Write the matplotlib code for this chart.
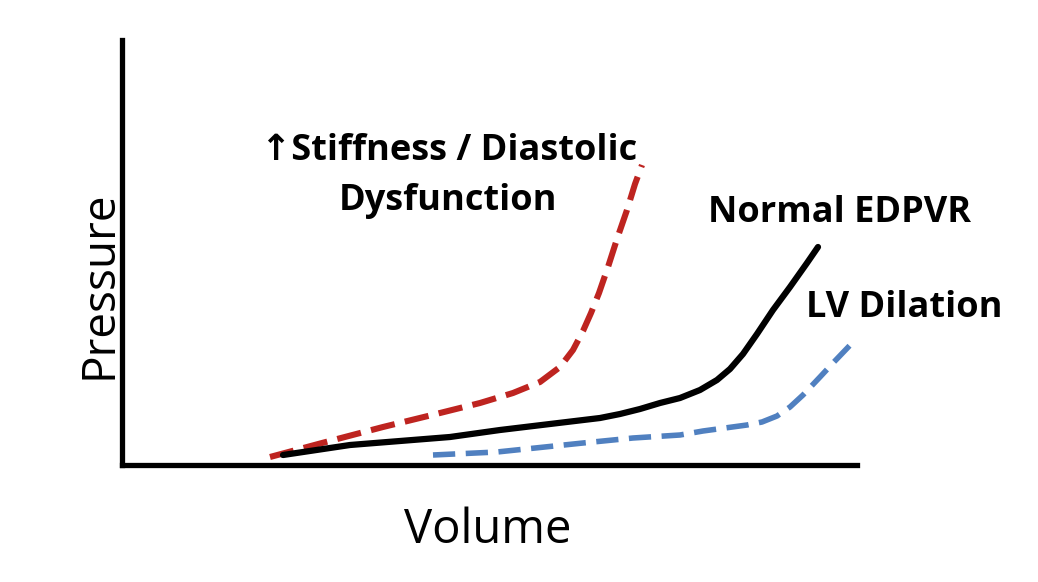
import matplotlib
matplotlib.use("Agg")
import matplotlib.pyplot as plt

# Data (arbitrary units: volume, pressure)
stiff_v = [148, 200, 261, 310, 358, 391, 418, 438, 451, 461, 469, 477, 486, 495, 505, 513, 520]
stiff_p = [8, 22, 38, 50, 62, 72, 83, 98, 115, 134, 152, 172, 198, 226, 255, 281, 300]

normal_v = [161, 228, 328, 378, 428, 478, 498, 518, 538, 558, 578, 595, 608, 621, 635, 651, 668, 685, 696]
normal_p = [10, 20, 28, 35, 41, 47, 51, 56, 62, 67, 75, 85, 96, 111, 131, 155, 178, 202, 218]

dilation_v = [311, 375, 461, 511, 558, 581, 625, 640, 655, 668, 681, 698, 711, 733]
dilation_p = [10, 13, 22, 27, 30, 34, 40, 43, 49, 58, 70, 88, 102, 125]

labels = {
    "stiff1": "\u2191Stiffness / Diastolic",
    "stiff2": "Dysfunction",
    "normal": "Normal EDPVR",
    "dilation": "LV Dilation",
    "x": "Volume",
    "y": "Pressure",
}

W, H = 1038, 582
fig = plt.figure(figsize=(W / 100, H / 100), dpi=100)
ax = fig.add_axes([122 / W, 1 - 465 / H, 735 / W, 425 / H])
ax.set_xlim(0, 735)
ax.set_ylim(0, 425)

ax.plot(stiff_v, stiff_p, color="#BE2420", lw=4.4, dashes=(4.0, 1.7),
        solid_joinstyle="round", dash_capstyle="butt", clip_on=False)
ax.plot(normal_v, normal_p, color="black", lw=4.5, solid_capstyle="round",
        solid_joinstyle="round", clip_on=False)
ax.plot(dilation_v, dilation_p, color="#5080C0", lw=4.0, dashes=(4.0, 1.9),
        solid_joinstyle="round", dash_capstyle="butt", clip_on=False)

ax.spines[["top", "right"]].set_visible(False)
ax.spines["left"].set_linewidth(3.8)
ax.spines["bottom"].set_linewidth(3.8)
ax.set_xticks([])
ax.set_yticks([])

fam = ["Open Sans", "DejaVu Sans"]
def ftext(x, y, s, **kw):
    fig.text(x / W, 1 - y / H, s, family=fam, **kw)

ftext(449, 160, labels["stiff1"], fontsize=26, fontweight="bold", ha="center", va="baseline")
ftext(448, 210, labels["stiff2"], fontsize=26, fontweight="bold", ha="center", va="baseline")
ftext(840, 222, labels["normal"], fontsize=26, fontweight="bold", ha="center", va="baseline")
ftext(904, 317, labels["dilation"], fontsize=26, fontweight="bold", ha="center", va="baseline")
ftext(488, 543, labels["x"], fontsize=34, ha="center", va="baseline")
ftext(112, 285, labels["y"], fontsize=33, ha="center", va="baseline",
      rotation=90, rotation_mode="anchor")

fig.savefig("out.png", dpi=100)
